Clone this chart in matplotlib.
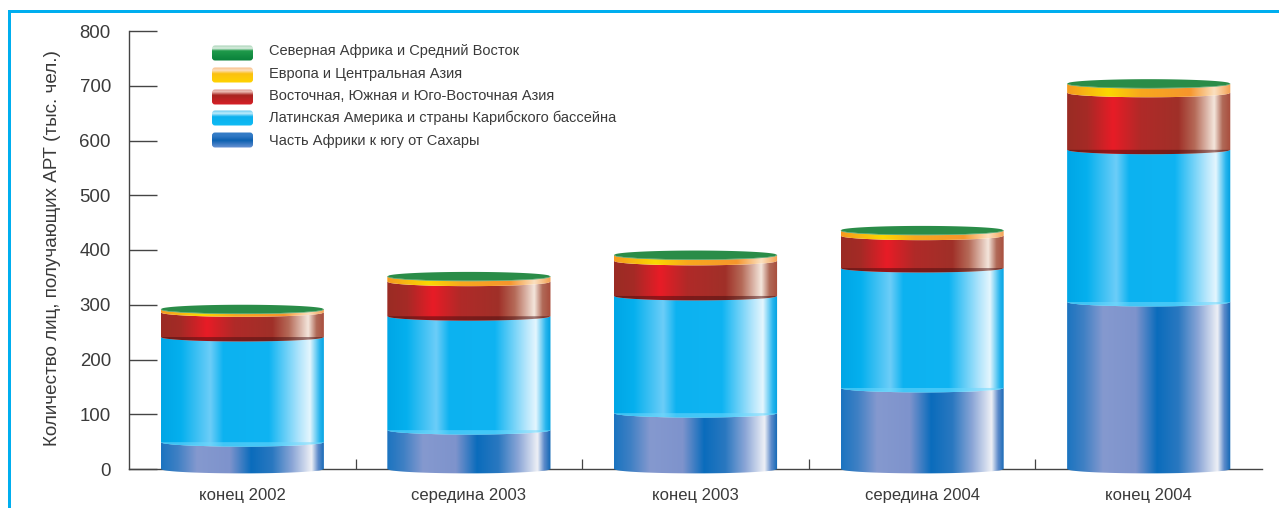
import numpy as np
import matplotlib.pyplot as plt
from matplotlib.colors import LinearSegmentedColormap
from matplotlib.patches import FancyBboxPatch, Polygon, Rectangle

plt.rcParams['font.family'] = ['Liberation Sans', 'DejaVu Sans']

# Datos (miles de personas)
periodos = ['конец 2002', 'середина 2003', 'конец 2003', 'середина 2004', 'конец 2004']
africa_sur = [49, 71, 102, 148, 305]
latina = [192, 208, 214, 219, 278]
asia = [45, 63, 64, 59, 104]
europa = [5, 9, 10, 9, 16]
norte_africa = [1, 1, 1, 1, 1]

nombres = [
    'Северная Африка и Средний Восток',
    'Европа и Центральная Азия',
    'Восточная, Южная и Юго-Восточная Азия',
    'Латинская Америка и страны Карибского бассейна',
    'Часть Африки к югу от Сахары',
]
yticks = [0, 100, 200, 300, 400, 500, 600, 700, 800]

W, H = 1279, 508
TXT = '#3a3a3a'

# Degradados horizontales de cada capa
grad_azul = [(0, '#1b74c0'), (.1, '#3f80c4'), (.22, '#8599cf'), (.42, '#7e93cc'), (.55, '#0a6cbc'),
             (.68, '#2a78c0'), (.8, '#8aa5d6'), (.92, '#eef0f6'), (.96, '#5f8ccb'), (1, '#0f66b4')]
grad_celeste = [(0, '#00a6e6'), (.12, '#05b0ee'), (.3, '#6ccdf8'), (.38, '#0cb2f0'), (.66, '#0fb4f2'),
                (.85, '#b5e6fc'), (.91, '#e4f6fe'), (.97, '#28b6ee'), (1, '#00a0e0')]
grad_rojo = [(0, '#9a2c24'), (.12, '#a52a26'), (.28, '#e81c26'), (.45, '#b02a28'), (.68, '#a03028'),
             (.78, '#b56a58'), (.9, '#f4e6dc'), (.95, '#b06a58'), (1, '#a84c3c')]
grad_naranja = [(0, '#f59a20'), (.25, '#fbd800'), (.45, '#f8a81e'), (.75, '#f6962c'),
                (.9, '#fbe0c0'), (1, '#f4a050')]
grad_verde = [(0, '#2f8a48'), (.2, '#1f8a40'), (.6, '#258c45'), (.85, '#3c9a5a'), (1, '#2f8a48')]


def mapa(stops):
    return LinearSegmentedColormap.from_list('m', stops)


fig = plt.figure(figsize=(W / 100, H / 100), dpi=100)
fig.patch.set_facecolor('white')

# Marco celeste arriba y a la izquierda
fig.add_artist(Rectangle((8 / W, 0), 3 / W, 1 - 10 / H, transform=fig.transFigure, color='#00aeef', lw=0))
fig.add_artist(Rectangle((8 / W, 1 - 13 / H), 1 - 8 / W, 3 / H, transform=fig.transFigure, color='#00aeef', lw=0))

ax = fig.add_axes([129 / W, 1 - 469 / H, 1133 / W, 438 / H])
ax.set_xlim(-0.5, 4.5)
ax.set_ylim(0, 800)
ax.patch.set_alpha(0)
for lado in ['top', 'right']:
    ax.spines[lado].set_visible(False)
for lado in ['left', 'bottom']:
    ax.spines[lado].set_color('#444444')
    ax.spines[lado].set_linewidth(1.0)

ax.set_yticks(yticks)
ax.tick_params(axis='y', direction='in', length=20.5, width=1.0, color='#444444',
               labelsize=13.4, labelcolor=TXT, pad=13)
ax.set_xticks(range(5))
ax.set_xticklabels(periodos)
ax.set_xticks([0.5, 1.5, 2.5, 3.5], minor=True)
ax.tick_params(axis='x', which='major', length=0, labelsize=12, labelcolor=TXT, pad=14)
ax.tick_params(axis='x', which='minor', direction='in', length=7, width=0.9, color='#444444')
fig.text(53 / W, 1 - 248 / H, 'Количество лиц, получающих АРТ (тыс. чел.)', rotation=90,
         ha='center', va='center', fontsize=13.6, color=TXT)

ANCHO = 0.72
DIP = 8.0
t = np.linspace(-1, 1, 80)
curva = np.sqrt(1 - t ** 2)
# cada capa: datos, degradado y media luna en su borde inferior
capas = [
    (africa_sur, grad_azul, None),
    (latina, grad_celeste, ('#70d8fc', .55)),
    (asia, grad_rojo, ('#4a0c0e', .5)),
    (europa, grad_naranja, None),
    (norte_africa, grad_verde, None),
]

for i in range(len(periodos)):
    xs = i + t * ANCHO / 2
    base = 0
    for valores, stops, sombra in capas:
        tope = base + valores[i]
        pts = np.r_[np.c_[xs, base - DIP * curva], np.c_[xs[::-1], tope - DIP * curva[::-1]]]
        poly = Polygon(pts, closed=True, transform=ax.transData, fc='none', ec='none')
        ax.add_patch(poly)
        gradiente = np.linspace(0, 1, 256)[None, :]
        im = ax.imshow(gradiente, cmap=mapa(stops), aspect='auto', zorder=3 + base / 1000,
                       extent=(i - ANCHO / 2, i + ANCHO / 2, base - DIP - 2, tope + DIP + 2))
        im.set_clip_box(fig.bbox)
        im.set_clip_path(poly)
        if sombra is not None:
            borde = np.r_[np.c_[xs, base - DIP * curva], np.c_[xs[::-1], np.full_like(xs, base)]]
            ax.add_patch(Polygon(borde, closed=True, fc=sombra[0], ec='none', alpha=sombra[1],
                                 zorder=3.5 + base / 1000, clip_on=False))
        base = tope
    # tapa superior del cilindro
    tapa = np.r_[np.c_[xs, base + DIP * curva], np.c_[xs[::-1], base - DIP * curva[::-1]]]
    ax.add_patch(Polygon(tapa, closed=True, fc='#2a8c48', ec='none', zorder=4.5, clip_on=False))

ax.set_xlim(-0.5, 4.5)
ax.set_ylim(0, 800)

# Leyenda hecha a mano con barritas brillantes
fila_y = [53, 75, 97, 118, 140]
texto_y = [51, 74, 96, 118, 141]
leyenda_stops = [
    [(0, '#8cc6a0'), (.25, '#e0f0e4'), (.4, '#1f9a4a'), (1, '#08803a')],
    [(0, '#f8b070'), (.25, '#fde0c0'), (.45, '#fbc010'), (1, '#ffd400')],
    [(0, '#c86a60'), (.25, '#eec0b8'), (.45, '#a82420'), (1, '#d81f26')],
    [(0, '#40bcec'), (.25, '#c0ecfc'), (.45, '#0ab0ee'), (1, '#10bcf4')],
    [(0, '#3a80c8'), (.3, '#2f78c4'), (.55, '#0c60b0'), (1, '#6c94d4')],
]
for y, ty, nombre, stops in zip(fila_y, texto_y, nombres, leyenda_stops):
    a = fig.add_axes([211 / W, 1 - (y + 8.5) / H, 43 / W, 17 / H])
    a.axis('off')
    im = a.imshow(np.linspace(0, 1, 64)[:, None], cmap=mapa(stops), aspect='auto', extent=(0, 43, 0, 17), origin='upper')
    clip = FancyBboxPatch((1, 1), 41, 15, boxstyle='round,pad=0,rounding_size=3', transform=a.transData,
                          fc='none', ec='none')
    a.add_patch(clip)
    im.set_clip_path(clip)
    fig.text(269 / W, 1 - ty / H, nombre, ha='left', va='center', fontsize=10.5, color=TXT)

fig.savefig('out.png', dpi=100)
